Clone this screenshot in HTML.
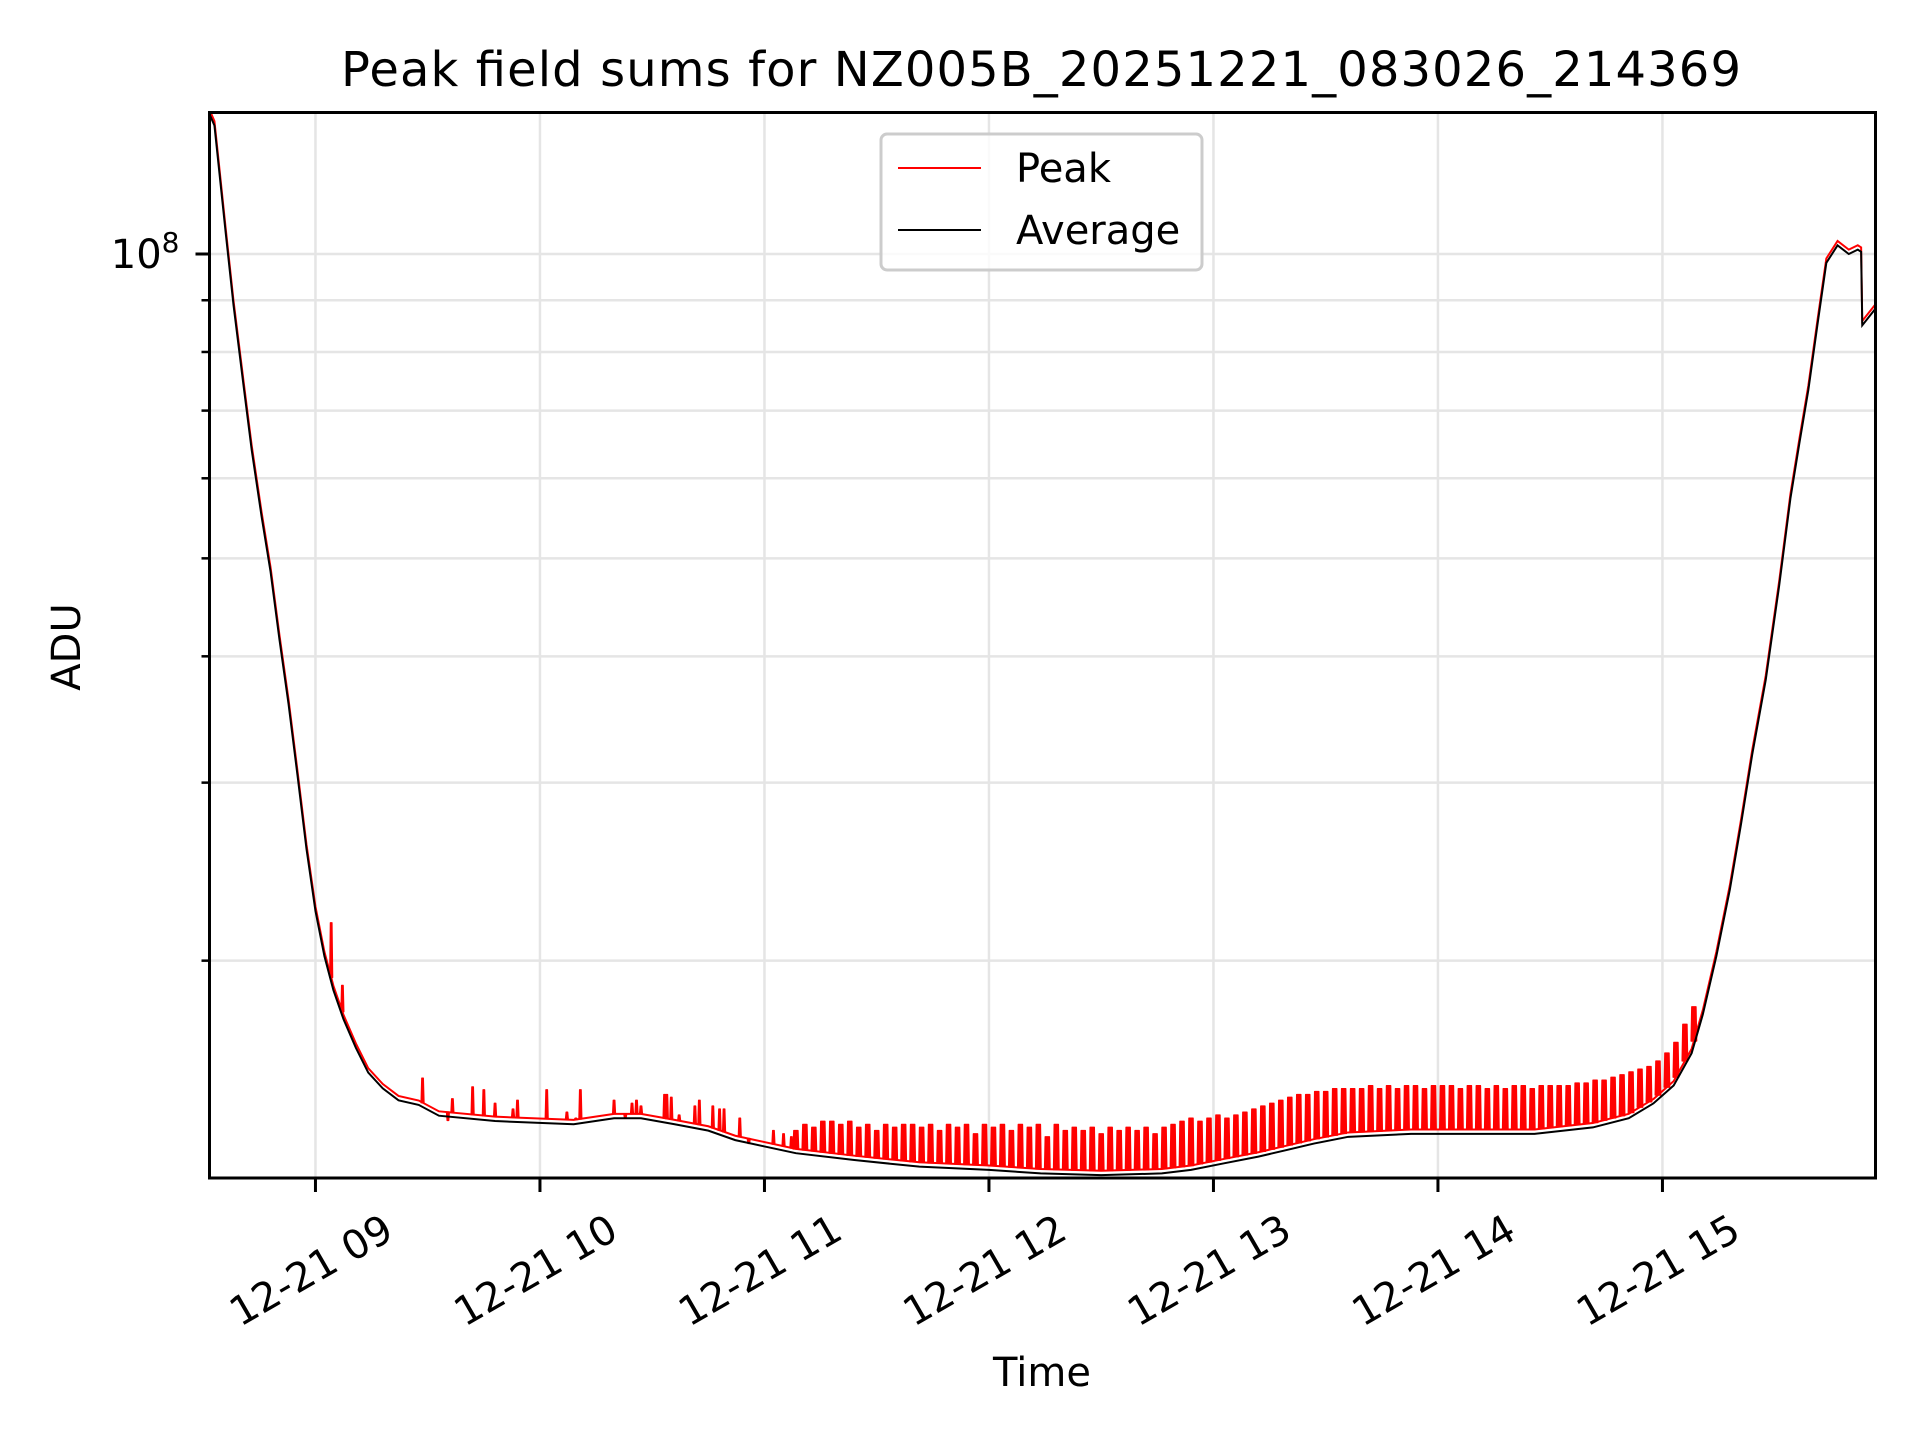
<!DOCTYPE html>
<html><head><meta charset="utf-8"><style>
html,body{margin:0;padding:0;background:#fff;}
svg{display:block;font-family:"DejaVu Sans","Liberation Sans",sans-serif;}
</style></head><body>
<svg id="chart" width="1920" height="1440" viewBox="0 0 1920 1440" xmlns="http://www.w3.org/2000/svg">
<rect width="1920" height="1440" fill="#fff"/>
<text x="1041" y="86" font-size="48" text-anchor="middle" textLength="1400">Peak field sums for NZ005B_20251221_083026_214369</text>
<g id="grid"></g>
<g id="series"></g>
<rect x="209.5" y="112.5" width="1666" height="1065.5" fill="none" stroke="#000" stroke-width="3"/>
<g id="axes"></g>
<text x="1042" y="1386" font-size="40" text-anchor="middle">Time</text>
<text transform="translate(80,647) rotate(-90)" font-size="40" text-anchor="middle">ADU</text>
<g>
<rect x="881" y="134" width="321" height="136" rx="6" fill="#fff" fill-opacity="0.8" stroke="#ccc" stroke-width="3"/>
<line x1="898" y1="168" x2="981" y2="168" stroke="#f00" stroke-width="2"/>
<text x="1016" y="182" font-size="40">Peak</text>
<line x1="898" y1="230" x2="981" y2="230" stroke="#000" stroke-width="2"/>
<text x="1016" y="244" font-size="40">Average</text>
</g>
</svg>
<script>
// x in hours of 2025-12-21, y in ADU
const xTickHours = [9,10,11,12,13,14,15];
const xTickLabels = ["12-21 09","12-21 10","12-21 11","12-21 12","12-21 13","12-21 14","12-21 15"];
const yMinorTicks = [2e7,3e7,4e7,5e7,6e7,7e7,8e7,9e7];
const yMajorTicks = [1e8];
const avgTimes = [8.528,8.55,8.60,8.635,8.68,8.716,8.76,8.80,8.84,8.88,8.92,8.96,9.00,9.04,9.08,9.125,9.18,9.235,9.30,9.37,9.46,9.55,9.80,10.15,10.33,10.45,10.60,10.75,10.87,11.00,11.14,11.40,11.69,12.00,12.23,12.50,12.77,12.90,13.05,13.20,13.33,13.45,13.60,13.88,14.20,14.43,14.69,14.85,14.96,15.05,15.13,15.18,15.24,15.30,15.35,15.40,15.46,15.52,15.57,15.61,15.65,15.69,15.73,15.78,15.83,15.87,15.885,15.89,15.949];
const avgValues = [1.375e8,1.34e8,1.05e8,8.9e7,7.4e7,6.4e7,5.5e7,4.85e7,4.15e7,3.59e7,3.05e7,2.58e7,2.24e7,2.02e7,1.87e7,1.75e7,1.64e7,1.55e7,1.495e7,1.455e7,1.44e7,1.405e7,1.388e7,1.378e7,1.397e7,1.397e7,1.378e7,1.358e7,1.329e7,1.31e7,1.29e7,1.27e7,1.251e7,1.242e7,1.232e7,1.227e7,1.232e7,1.242e7,1.261e7,1.28e7,1.30e7,1.319e7,1.339e7,1.348e7,1.348e7,1.348e7,1.368e7,1.397e7,1.445e7,1.505e7,1.62e7,1.77e7,2.02e7,2.35e7,2.73e7,3.20e7,3.79e7,4.70e7,5.73e7,6.50e7,7.34e7,8.5e7,9.8e7,1.02e8,1.0e8,1.01e8,1.005e8,8.5e7,8.83e7];
const spikeTimes = [9.07,9.12,9.477,9.59,9.61,9.70,9.75,9.80,9.88,9.90,10.03,10.12,10.16,10.18,10.33,10.38,10.41,10.43,10.45,10.555,10.565,10.585,10.62,10.69,10.71,10.77,10.80,10.82,10.89,10.93,11.04,11.085,11.12,
11.14,11.18,11.22,11.26,11.30,11.34,11.38,11.42,11.46,11.50,11.54,11.58,11.62,11.66,11.70,11.74,11.78,11.82,11.86,11.90,11.94,11.98,12.02,12.06,12.10,12.14,12.18,12.22,12.26,12.30,12.34,12.38,12.42,12.46,12.50,12.54,12.58,12.62,12.66,12.70,12.74,12.78,12.82,12.86,12.90,12.94,12.98,13.02,13.06,13.10,13.14,13.18,13.22,13.26,13.30,13.34,13.38,13.42,13.46,13.50,13.54,13.58,13.62,13.66,13.70,13.74,13.78,13.82,13.86,13.90,13.94,13.98,14.02,14.06,14.10,14.14,14.18,14.22,14.26,14.30,14.34,14.38,14.42,14.46,14.50,14.54,14.58,14.62,14.66,14.70,14.74,14.78,14.82,14.86,14.90,14.94,14.98,15.02,15.06,15.10,15.14];
const spikeValues = [2.18e7,1.89e7,1.53e7,1.39e7,1.46e7,1.50e7,1.49e7,1.445e7,1.426e7,1.455e7,1.49e7,1.416e7,1.397e7,1.49e7,1.455e7,1.397e7,1.445e7,1.455e7,1.436e7,1.474e7,1.474e7,1.465e7,1.407e7,1.436e7,1.455e7,1.436e7,1.426e7,1.426e7,1.397e7,1.319e7,1.358e7,1.348e7,1.339e7,
1.358e7,1.377e7,1.368e7,1.387e7,1.387e7,1.377e7,1.387e7,1.368e7,1.377e7,1.358e7,1.377e7,1.368e7,1.377e7,1.377e7,1.368e7,1.377e7,1.358e7,1.377e7,1.368e7,1.377e7,1.348e7,1.377e7,1.368e7,1.377e7,1.358e7,1.377e7,1.368e7,1.377e7,1.339e7,1.377e7,1.358e7,1.368e7,1.358e7,1.368e7,1.348e7,1.368e7,1.358e7,1.368e7,1.358e7,1.368e7,1.348e7,1.368e7,1.377e7,1.387e7,1.397e7,1.387e7,1.397e7,1.407e7,1.397e7,1.407e7,1.416e7,1.426e7,1.436e7,1.445e7,1.455e7,1.465e7,1.474e7,1.474e7,1.484e7,1.484e7,1.494e7,1.494e7,1.494e7,1.494e7,1.504e7,1.494e7,1.504e7,1.494e7,1.504e7,1.504e7,1.494e7,1.504e7,1.504e7,1.504e7,1.494e7,1.504e7,1.504e7,1.494e7,1.504e7,1.494e7,1.504e7,1.504e7,1.494e7,1.504e7,1.504e7,1.504e7,1.504e7,1.513e7,1.513e7,1.523e7,1.523e7,1.533e7,1.542e7,1.552e7,1.562e7,1.571e7,1.591e7,1.62e7,1.66e7,1.73e7,1.80e7];

const NS = "http://www.w3.org/2000/svg";
const L = 209.5, R = 1875.5, T = 112.5, B = 1178;
const X0 = 8.528, X1 = 15.949;
const Y8 = 254, DEC = 1011;
function xs(h){ return L + (h - X0) / (X1 - X0) * (R - L); }
function ys(v){ return Y8 - (Math.log10(v) - 8) * DEC; }
function mk(tag, attrs, parent){ const e = document.createElementNS(NS, tag); for (const k in attrs) e.setAttribute(k, attrs[k]); parent.appendChild(e); return e; }
function avgAt(h){
  for (let i = 0; i < avgTimes.length - 1; i++){
    if (h >= avgTimes[i] && h <= avgTimes[i+1]){
      const f = (h - avgTimes[i]) / (avgTimes[i+1] - avgTimes[i]);
      return Math.pow(10, Math.log10(avgValues[i]) * (1 - f) + Math.log10(avgValues[i+1]) * f);
    }
  }
  return avgValues[avgValues.length - 1];
}
const grid = document.getElementById('grid');
const axes = document.getElementById('axes');
const series = document.getElementById('series');

xTickHours.forEach((h, i) => {
  const x = xs(h);
  const g = mk('line', {x1:x, y1:T, x2:x, y2:B, stroke:'#e5e5e5', 'stroke-width':2.5}, grid);
  
  
  const t = mk('line', {x1:x, y1:B, x2:x, y2:B + 14, stroke:'#000', 'stroke-width':3}, axes);
  
  
  const lbl = mk('text', {x:0, y:0, 'font-size':40, 'text-anchor':'middle', 'dominant-baseline':'central', transform:'translate(' + (x - 4) + ',1271) rotate(-30)'}, axes);
  lbl.textContent = xTickLabels[i];
  
  
});
yMinorTicks.forEach(v => {
  const y = ys(v);
  const g = mk('line', {x1:L, y1:y, x2:R, y2:y, stroke:'#e5e5e5', 'stroke-width':2.5}, grid);
  
  
  const t = mk('line', {x1:L - 8, y1:y, x2:L, y2:y, stroke:'#000', 'stroke-width':2.5}, axes);
  
  
});
yMajorTicks.forEach(v => {
  const y = ys(v);
  const g = mk('line', {x1:L, y1:y, x2:R, y2:y, stroke:'#e5e5e5', 'stroke-width':2.5}, grid);
  
  
  const t = mk('line', {x1:L - 14, y1:y, x2:L, y2:y, stroke:'#000', 'stroke-width':3}, axes);
  
  
  const lbl = mk('text', {x:L - 30, y:y + 14, 'font-size':40, 'text-anchor':'end'}, axes);
  lbl.innerHTML = '10<tspan dy="-16" font-size="28">' + Math.round(Math.log10(v)) + '</tspan>';
  
  
});

const clip = mk('clipPath', {id:'plotclip'}, document.getElementById('chart'));
mk('rect', {x:L, y:T, width:R - L, height:B - T}, clip);
series.setAttribute('clip-path', 'url(#plotclip)');

// Peak baseline just above average
const peakBase = mk('polyline', {points:avgTimes.map((t, i) => xs(t) + ',' + ys(avgValues[i] * 1.01)).join(' '), fill:'none', stroke:'#f00', 'stroke-width':2}, series);



// Peak spikes
spikeTimes.forEach((t, i) => {
  const base = avgAt(t) * 1.01;
  const w = t > 11.13 ? 0.009 : 0.003;
  const p = [xs(t - w - 0.003) + ',' + ys(base), xs(t - w) + ',' + ys(spikeValues[i]), xs(t + w) + ',' + ys(spikeValues[i]), xs(t + w + 0.003) + ',' + ys(base)].join(' ');
  const s = mk('polygon', {points:p, fill:'#f00', stroke:'#f00', 'stroke-width':1.5, 'stroke-linejoin':'round'}, series);
  
  
});

const avg = mk('polyline', {points:avgTimes.map((t, i) => xs(t) + ',' + ys(avgValues[i])).join(' '), fill:'none', stroke:'#000', 'stroke-width':2}, series);


</script>
</body></html>
